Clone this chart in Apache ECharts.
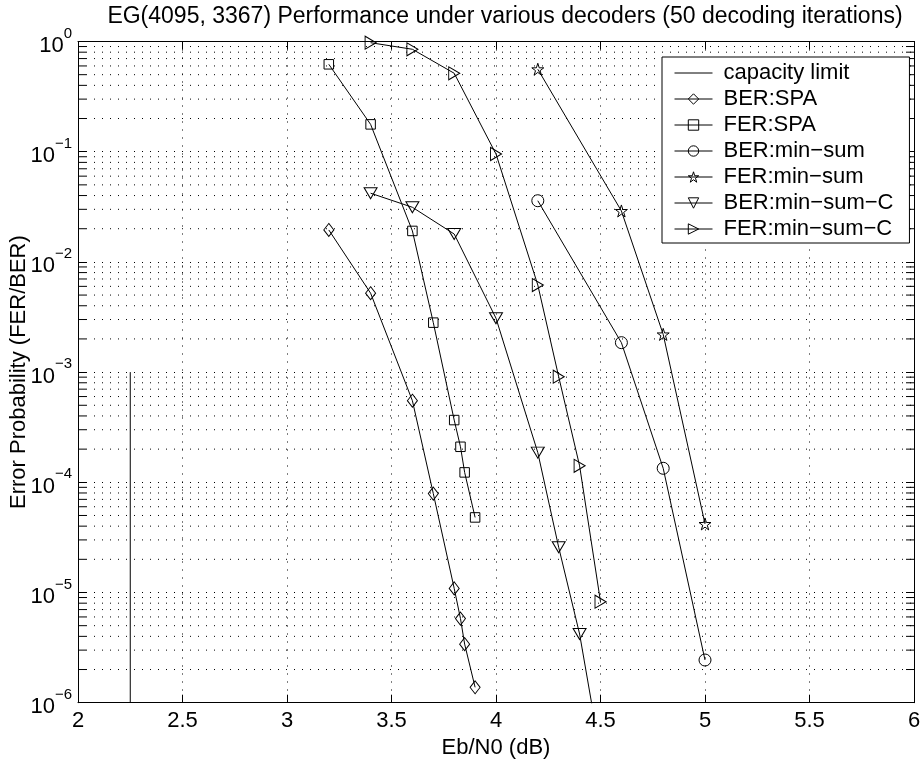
<!DOCTYPE html>
<html>
<head>
<meta charset="utf-8">
<script src="https://cdn.jsdelivr.net/npm/echarts@6/dist/echarts.min.js"></script>
<style>
html,body{margin:0;padding:0;background:#fff;}
#chart{width:924px;height:764px;}
</style>
</head>
<body>
<div id="chart"></div>
<script>
// ---- data ----
const titleText = 'EG(4095, 3367) Performance under various decoders (50 decoding iterations)';
const xName = 'Eb/N0 (dB)';
const yName = 'Error Probability (FER/BER)';

const capacityX = [2.25, 2.25];
const capacityY = [1e-6, 1e-3];

const berSpaX = [3.2, 3.4, 3.6, 3.7, 3.8, 3.83, 3.85, 3.9];
const berSpaY = [0.0195, 5.2e-3, 5.5e-4, 7.9e-5, 1.09e-5, 5.8e-6, 3.4e-6, 1.38e-6];

const ferSpaX = [3.2, 3.4, 3.6, 3.7, 3.8, 3.83, 3.85, 3.9];
const ferSpaY = [0.621, 0.177, 0.0191, 2.81e-3, 3.67e-4, 2.1e-4, 1.23e-4, 4.8e-5];

const berMsX = [4.2, 4.6, 4.8, 5.0];
const berMsY = [0.0359, 1.85e-3, 1.34e-4, 2.44e-6];

const ferMsX = [4.2, 4.6, 4.8, 5.0];
const ferMsY = [0.56, 0.029, 2.2e-3, 4.19e-5];

const berMscX = [3.4, 3.6, 3.8, 4.0, 4.2, 4.3, 4.4, 4.5];
const berMscY = [0.042, 0.0313, 0.0179, 3.08e-3, 1.86e-4, 2.57e-5, 4.2e-6, 3.4e-7];

const ferMscX = [3.4, 3.6, 3.8, 4.0, 4.2, 4.3, 4.4, 4.5];
const ferMscY = [0.975, 0.85, 0.515, 0.0953, 6.17e-3, 9.08e-4, 1.41e-4, 8.25e-6];

const seriesNames = ['capacity limit', 'BER:SPA', 'FER:SPA', 'BER:min\u2212sum', 'FER:min\u2212sum', 'BER:min\u2212sum\u2212C', 'FER:min\u2212sum\u2212C'];

const xMin = 2, xMax = 6, xStep = 0.5;
const yMin = 1e-6, yMax = 1;
const minorMultipliers = [2, 3, 4, 5, 6, 7, 8, 9];
const decadeExps = [-6, -5, -4, -3, -2, -1];

// ---- build ----
function zip(xs, ys) { return xs.map((x, i) => [x, ys[i]]); }
const minorVals = [];
decadeExps.forEach(e => minorMultipliers.forEach(m => minorVals.push(m * Math.pow(10, e))));

const FONT = 'Liberation Sans, Arial, Helvetica, sans-serif';
const FS = 22;
const starPath = 'path://M0,-1L0.2245,-0.309L0.951,-0.309L0.363,0.118L0.588,0.809L0,0.382L-0.588,0.809L-0.363,0.118L-0.951,-0.309L-0.2245,-0.309Z';

function lineSeries(name, xs, ys, symbol, size, rotate, hideSymbol) {
  return {
    name: name, type: 'line', xAxisIndex: 0, yAxisIndex: 0,
    data: zip(xs, ys),
    symbol: symbol, symbolSize: size, symbolRotate: rotate || 0,
    showSymbol: !hideSymbol,
    clip: true,
    lineStyle: { color: '#000', width: 1 },
    itemStyle: { color: 'rgba(255,255,255,0)', borderColor: hideSymbol ? 'rgba(0,0,0,0)' : '#000', borderWidth: 1 },
    emphasis: { disabled: true },
    silent: true, z: 5
  };
}

const legendItems = seriesNames.map((n, i) => ({
  name: n,
  itemStyle: { color: 'rgba(255,255,255,0)', borderColor: i === 0 ? 'rgba(0,0,0,0)' : '#000', borderWidth: 1 },
  lineStyle: { color: '#000', width: 1 }
}));

const chart = echarts.init(document.getElementById('chart'), null, { renderer: 'canvas' });
const gridL = 78, gridR = 10, gridT = 41.5, gridB = 61.3;

const option = {
  animation: false,
  backgroundColor: '#fff',
  textStyle: { fontFamily: FONT, color: '#000' },
  title: {
    text: titleText,
    left: 500, top: 0, textAlign: 'center',
    textStyle: { fontFamily: FONT, fontSize: 23, fontWeight: 'normal', color: '#000' }
  },
  grid: { left: gridL, right: gridR, top: gridT, bottom: gridB, containLabel: false, outerBoundsMode: 'none' },
  legend: {
    data: legendItems,
    orient: 'vertical',
    left: 662, top: 57,
    backgroundColor: '#fff',
    borderColor: '#000', borderWidth: 1,
    padding: [3, 16, 1, 12],
    itemWidth: 38, itemHeight: 13, itemGap: 0,
    selectedMode: false,
    lineStyle: { width: 1 },
    textStyle: { fontFamily: FONT, fontSize: FS, color: '#000', lineHeight: 26, padding: [0, 0, 0, 6] }
  },
  xAxis: [{
    type: 'value', min: xMin, max: xMax, interval: xStep,
    name: xName, nameLocation: 'middle', nameGap: 31,
    nameTextStyle: { fontFamily: FONT, fontSize: FS, color: '#000' },
    axisLine: { show: true, onZero: false, lineStyle: { color: '#000', width: 1 } },
    axisTick: { show: true, inside: true, length: 8, lineStyle: { color: '#000' } },
    axisLabel: { fontFamily: FONT, fontSize: FS, color: '#000', margin: 7 },
    splitLine: { show: true, lineStyle: { color: '#000', width: 1, type: [1, 7] } }
  }, {
    type: 'value', min: xMin, max: xMax, interval: xStep, position: 'top',
    axisLine: { show: true, onZero: false, lineStyle: { color: '#000', width: 1 } },
    axisTick: { show: true, inside: true, length: 8, lineStyle: { color: '#000' } },
    axisLabel: { show: false }, splitLine: { show: false }
  }],
  yAxis: [{
    type: 'log', logBase: 10, min: yMin, max: yMax,
    name: yName, nameLocation: 'middle', nameGap: 48, nameMoveOverlap: false,
    nameTextStyle: { fontFamily: FONT, fontSize: FS, color: '#000' },
    axisLine: { show: true, onZero: false, lineStyle: { color: '#000', width: 1 } },
    axisTick: { show: true, inside: true, length: 8, lineStyle: { color: '#000' } },
    axisLabel: {
      margin: 6,
      formatter: function (v) {
        const e = Math.round(Math.log10(v));
        return '{b|10}{e|' + (e < 0 ? '\u2212' + (-e) : String(e)) + '}';
      },
      rich: {
        b: { fontFamily: FONT, fontSize: FS, color: '#000', verticalAlign: 'bottom', lineHeight: 31 },
        e: { fontFamily: FONT, fontSize: 15, color: '#000', verticalAlign: 'top', lineHeight: 31 }
      }
    },
    splitLine: { show: true, lineStyle: { color: '#000', width: 1, type: [1, 7] } }
  }, {
    type: 'log', logBase: 10, min: yMin, max: yMax, position: 'right',
    axisLine: { show: true, onZero: false, lineStyle: { color: '#000', width: 1 } },
    axisTick: { show: true, inside: true, length: 8, lineStyle: { color: '#000' } },
    axisLabel: { show: false }, splitLine: { show: false }
  }],
  series: [
    {
      type: 'custom', name: '_minorGrid', xAxisIndex: 0, yAxisIndex: 0,
      data: minorVals.map(v => [xMin, v]),
      encode: { x: 0, y: 1 },
      silent: true, z: 1,
      renderItem: function (params, api) {
        const v = api.value(1);
        const p = api.coord([xMin, v]);
        const q = api.coord([xMax, v]);
        const st = { stroke: '#000', lineWidth: 1 };
        return {
          type: 'group',
          children: [
            { type: 'line', shape: { x1: p[0], y1: p[1], x2: q[0], y2: q[1] }, style: { stroke: '#000', lineWidth: 1, lineDash: [1, 7] } },
            { type: 'line', shape: { x1: p[0], y1: p[1], x2: p[0] + 8, y2: p[1] }, style: st },
            { type: 'line', shape: { x1: q[0] - 8, y1: q[1], x2: q[0], y2: q[1] }, style: st }
          ]
        };
      }
    },
    lineSeries(seriesNames[0], capacityX, capacityY, 'circle', 1, 0, true),
    lineSeries(seriesNames[1], berSpaX, berSpaY, 'diamond', [10, 13]),
    lineSeries(seriesNames[2], ferSpaX, ferSpaY, 'rect', 9.5),
    lineSeries(seriesNames[3], berMsX, berMsY, 'circle', 12),
    lineSeries(seriesNames[4], ferMsX, ferMsY, starPath, 12),
    lineSeries(seriesNames[5], berMscX, berMscY, 'triangle', [13, 11], 180),
    lineSeries(seriesNames[6], ferMscX, ferMscY, 'triangle', [13, 11], -90)
  ]
};
chart.setOption(option);
</script>
</body>
</html>
